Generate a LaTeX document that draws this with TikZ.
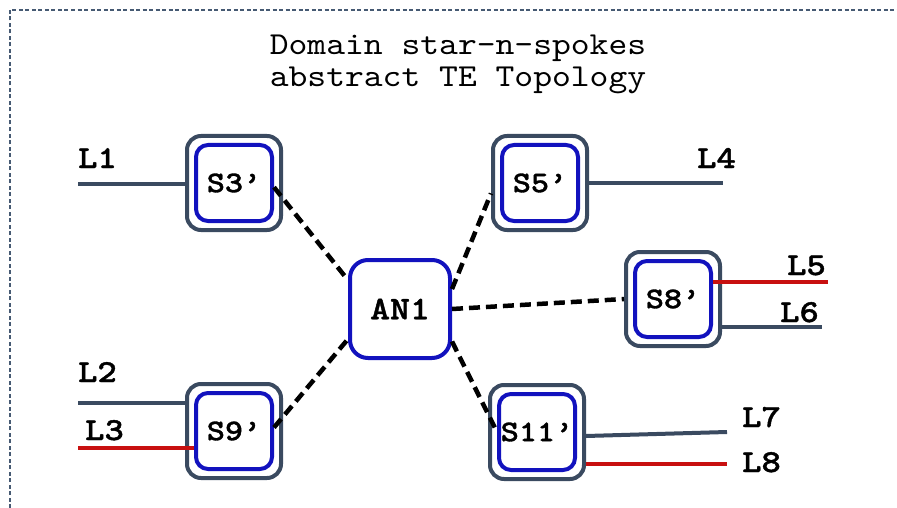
\documentclass[tikz,border=0pt]{standalone}
\usepackage{fontspec}
\newfontfamily\titlef[FakeStretch=1.12]{lmmono10-regular.otf}
\newfontfamily\boldf[FakeStretch=1.15,FakeBold=1.2]{lmmonolt10-bold.otf}
\definecolor{slate}{RGB}{58,74,96}
\definecolor{swblue}{RGB}{18,18,190}
\definecolor{lred}{RGB}{200,16,16}
\definecolor{framec}{RGB}{70,90,115}
\tikzset{
  outerbox/.style={draw=slate, line width=4pt, rounded corners=14pt, minimum width=94pt, minimum height=94pt, fill=white, inner sep=0pt},
  innerbox/.style={draw=swblue, line width=4pt, rounded corners=12pt, minimum width=76pt, minimum height=76pt, inner sep=0pt, font=\fontsize{30}{30}\selectfont\boldf},
  hubbox/.style={draw=swblue, line width=4pt, rounded corners=18pt, minimum width=100pt, minimum height=98pt, fill=white, inner sep=0pt, font=\fontsize{33}{33}\selectfont\boldf},
  lab/.style={anchor=base west, inner sep=0pt, font=\fontsize{32}{32}\selectfont\boldf},
  titletext/.style={anchor=base, inner sep=0pt, font=\fontsize{32}{32}\selectfont\titlef},
  link/.style={draw=slate, line width=4pt},
  redlink/.style={draw=lred, line width=4pt},
  spoke/.style={draw=black, line width=4.5pt, dash pattern=on 11pt off 6pt},
  framel/.style={draw=framec, line width=1.5pt, dash pattern=on 4pt off 2.5pt},
}
\begin{document}
\begin{tikzpicture}[x=1pt,y=-1pt]
\useasboundingbox (0,0) rectangle (897,508);
\coordinate (fbl) at (10,508);
\coordinate (ftl) at (10,10);
\coordinate (ftr) at (897,10);
\draw[framel] (fbl) -- (ftl) -- (ftr);

\node[titletext] (t1) at (458,55) {Domain star-n-spokes};
\node[titletext] (t2) at (458,87) {abstract TE Topology};

% switches
\node[outerbox] (S3o) at (234,183) {};
\node[innerbox] (S3) at (234,183) {S3’};
\node[outerbox] (S9o) at (234,431) {};
\node[innerbox] (S9) at (234,431) {S9’};
\node[outerbox] (S5o) at (540,183) {};
\node[innerbox] (S5) at (540,183) {S5’};
\node[outerbox] (S8o) at (673,299) {};
\node[innerbox] (S8) at (673,299) {S8’};
\node[outerbox] (S11o) at (537,432) {};
\node[innerbox] (S11) at (537,432) {S11’};
\node[hubbox] (AN1) at (400,309) {AN1};

% spokes
\draw[spoke] (S3.-6) -- (AN1.151);
\draw[spoke] (S9.5) -- (AN1.210);
\draw[spoke] (AN1.21) -- (S5o.192);
\draw[spoke] (AN1.east) -- (S8o.west);
\draw[spoke] (AN1.-32) -- (S11.west);

% link ends
\coordinate (e1) at (78,184);
\coordinate (e2) at (78,403);
\coordinate (e3) at (78,448);
\coordinate (e4) at (723,183);
\coordinate (e5) at (828,282);
\coordinate (e6) at (822,327);
\coordinate (e7) at (727,432);
\coordinate (e8) at (727,464);
\coordinate (s7) at (587,436);

\draw[link] (e1) -- (e1 -| S3o.west);
\draw[link] (e2) -- (e2 -| S9o.west);
\draw[redlink] (e3) -- (e3 -| S9.west);
\draw[link] (e4 -| S5o.east) -- (e4);
\draw[redlink] (e5 -| S8.east) -- (e5);
\draw[link] (e6 -| S8o.east) -- (e6);
\draw[link] (s7 -| S11o.east) -- (e7);
\draw[redlink] (e8 -| S11o.east) -- (e8);

% labels
\node[lab] (L1) at (78,168) {L1};
\node[lab] (L2) at (78,382) {L2};
\node[lab] (L3) at (85,440) {L3};
\node[lab] (L4) at (697,168) {L4};
\node[lab] (L5) at (787,275) {L5};
\node[lab] (L6) at (780,322) {L6};
\node[lab] (L7) at (742,427) {L7};
\node[lab] (L8) at (742,472) {L8};
\end{tikzpicture}
\end{document}
